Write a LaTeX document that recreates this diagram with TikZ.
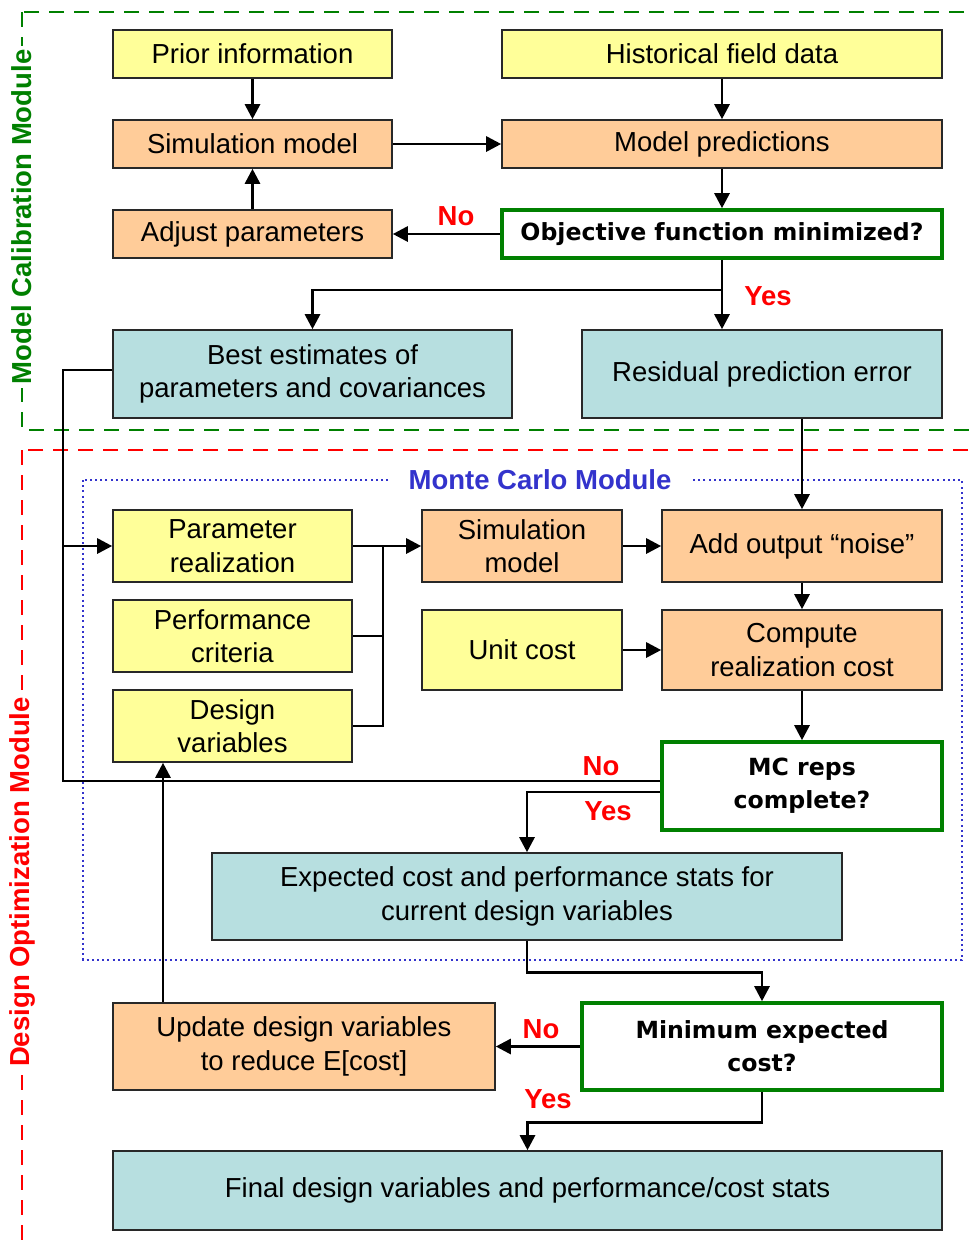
\documentclass[tikz,border=0pt]{standalone}
\usepackage{fontspec}
\setmainfont{Liberation Sans}
\newfontfamily\vfont{DejaVu Sans}
\usetikzlibrary{arrows.meta,calc}
\definecolor{cyel}{RGB}{255,255,153}
\definecolor{corg}{RGB}{255,204,153}
\definecolor{cblu}{RGB}{183,223,224}
\definecolor{cgrn}{RGB}{0,128,0}
\definecolor{cmc}{RGB}{51,51,204}
\definecolor{cbord}{RGB}{40,40,40}
\tikzset{
  box/.style={draw=cbord, line width=0.8pt, inner sep=0pt, align=center,
    font=\fontsize{13.75}{16.75}\selectfont},
  yel/.style={box, fill=cyel},
  org/.style={box, fill=corg},
  blu/.style={box, fill=cblu},
  dec/.style={draw=cgrn, line width=1.8pt, fill=white, inner sep=0pt, align=center,
    font=\vfont\bfseries\fontsize{11.8}{16.5}\selectfont},
  arr/.style={line width=1.4pt, -{Triangle[length=7.5pt,width=7.5pt]}},
  thn/.style={line width=0.75pt},
  lab/.style={text=red, font=\bfseries\fontsize{13.75}{16}\selectfont, inner sep=0pt},
  frame/.style={line width=1.4pt, dash pattern=on 7.5pt off 5pt},
  modlab/.style={fill=white, inner sep=2pt, font=\bfseries\fontsize{13.75}{16}\selectfont}
}
% \bx{name}{style}{x1}{y1}{x2}{y2}{text}
\newcommand\bx[7]{\node[#2, minimum width={(#5-#3)*0.5pt}, minimum height={(#6-#4)*0.5pt}]
  (#1) at ({(#3+#5)/2},{(#4+#6)/2}) {#7};}
\begin{document}
\begin{tikzpicture}[x=0.5pt, y=-0.5pt]
\useasboundingbox (0,0) rectangle (973,1249);
% frames
\draw[frame, draw=cgrn] (22,12) rectangle (1000,430);
\draw[frame, draw=red] (22,450) rectangle (1000,1270);
\draw[draw=cmc, line width=1pt, dash pattern=on 1pt off 1.6pt] (83,480) rectangle (962,960);
\node[modlab, rotate=90, text=cgrn] (lcal) at (22,217) {Model Calibration Module};
\node[modlab, rotate=90, text=red] (lopt) at (22,882) {Design Optimization Module};
\node[modlab, text=cmc, inner xsep=10pt] (lmc) at (540,480) {Monte Carlo Module};
% boxes
\bx{prior}{yel}{113}{30}{392}{78}{Prior information}
\bx{hist}{yel}{502}{30}{942}{78}{Historical field data}
\bx{sim1}{org}{113}{120}{392}{168}{Simulation model}
\bx{pred}{org}{502}{120}{942}{168}{Model predictions}
\bx{adj}{org}{113}{210}{392}{258}{Adjust parameters}
\bx{obj}{dec}{502}{210}{942}{258}{Objective function minimized?}
\bx{best}{blu}{113}{330}{512}{418}{Best estimates of\\parameters and covariances}
\bx{res}{blu}{582}{330}{942}{418}{Residual prediction error}
\bx{par}{yel}{113}{510}{352}{582}{Parameter\\realization}
\bx{pc}{yel}{113}{600}{352}{672}{Performance\\criteria}
\bx{dv}{yel}{113}{690}{352}{762}{Design\\variables}
\bx{sim2}{org}{422}{510}{622}{582}{Simulation\\model}
\bx{uc}{yel}{422}{610}{622}{690}{Unit cost}
\bx{noise}{org}{662}{510}{942}{582}{Add output “noise”}
\bx{cmp}{org}{662}{610}{942}{690}{Compute\\realization cost}
\bx{mc}{dec}{662}{742}{942}{830}{MC reps\\complete?}
\bx{exp}{blu}{212}{853}{842}{940}{Expected cost and performance stats for\\current design variables}
\bx{minc}{dec}{582}{1003}{942}{1090}{Minimum expected\\cost?}
\bx{upd}{org}{113}{1003}{495}{1090}{Update design variables\\to reduce E[cost]}
\bx{fin}{blu}{113}{1151}{942}{1230}{Final design variables and performance/cost stats}
% labels
\node[lab] (no1) at (456,216) {No};
\node[lab] (yes1) at (768,296) {Yes};
\node[lab] (no2) at (601,766) {No};
\node[lab] (yes2) at (608,811) {Yes};
\node[lab] (no3) at (541,1029) {No};
\node[lab] (yes3) at (548,1099) {Yes};
% connectors
\draw[arr] (prior) -- (sim1);
\draw[arr] (hist) -- (pred);
\draw[arr] (sim1) -- (pred);
\draw[arr] (pred) -- (obj);
\draw[arr] (obj) -- (adj);
\draw[arr] (adj) -- (sim1);
\coordinate (j1) at (722,290);
\draw[arr] (obj.south) -- (obj.south |- res.north);
\draw[arr] (j1) -| (best.north);
\coordinate (lc) at (63,546);
\draw[arr] ([yshift=2pt]best.west) -| (lc) -- (par.west);
\draw[thn] ([yshift=2.5pt]mc.west) -| (lc);
\draw[arr] ([yshift=-3pt]mc.west) -| (exp.north);
\draw[arr] (exp.south) -- ++(0,32) -| (minc.north);
\draw[arr] (minc) -- (upd);
\draw[arr] ([xshift=-70.5pt]upd.north) -- ([xshift=-70.5pt]upd.north |- dv.south);
\draw[arr] (minc.south) -- ++(0,31) -| (fin.north);
\draw[arr] (par) -- (sim2);
\coordinate (jn) at (383,546);
\draw[thn] (pc.east) -| (jn);
\draw[thn] (dv.east) -| (jn);
\draw[arr] (sim2) -- (noise);
\draw[arr] (uc) -- (cmp);
\draw[arr] (noise.north |- res.south) -- (noise.north);
\draw[arr] (noise) -- (cmp);
\draw[arr] (cmp) -- (mc);
\end{tikzpicture}
\end{document}
